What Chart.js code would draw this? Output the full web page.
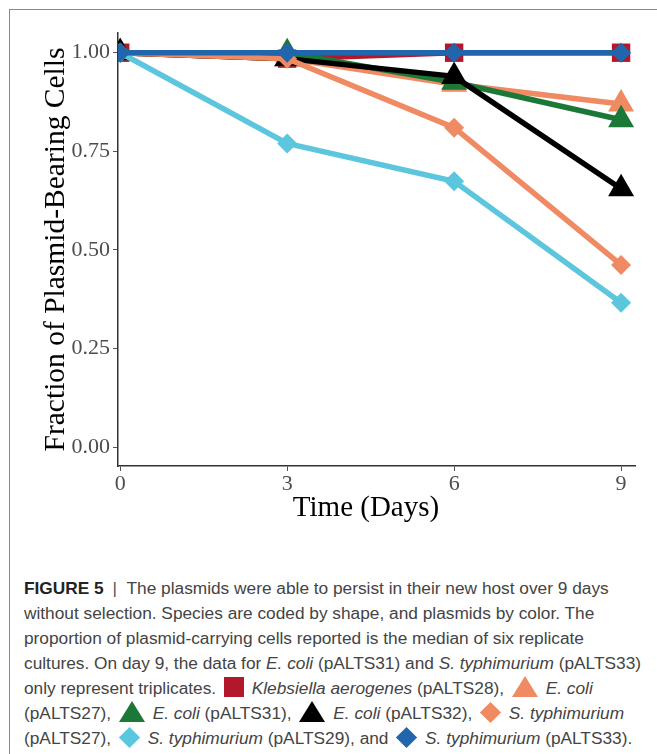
<!DOCTYPE html>
<html>
<head>
<meta charset="utf-8">
<script src="https://cdn.jsdelivr.net/npm/chart.js@4.4.0/dist/chart.umd.min.js"></script>
<style>
  html, body { margin: 0; padding: 0; background: #fff; }
  body { width: 657px; height: 754px; overflow: hidden; position: relative; }
  #frame { position: absolute; left: 9px; top: 9px; width: 700px; height: 800px;
           border-left: 1.5px solid #8a8a8a; border-top: 1.5px solid #8a8a8a; }
  #wrap { position: absolute; left: 0; top: 0; width: 657px; height: 530px; }
  #caption { position: absolute; left: 24px; top: 576px; width: 700px;
             font-family: "Liberation Sans", Arial, sans-serif;
             font-size: 17.3px; line-height: 25px; color: #444; white-space: nowrap; }
  #caption .ln { height: 25px; }
  #caption b { color: #222; }
  #caption .bar { color: #555; margin: 0 5px 0 4px; }
  .sw { display: inline-block; vertical-align: -3px; margin: 0 3px; }
  .sq { width: 20px; height: 20px; }
  .tri { width: 0; height: 0; border-left: 13px solid transparent; border-right: 13px solid transparent; border-bottom: 21px solid; }
  .dia { width: 15px; height: 15px; transform: rotate(45deg); margin: 0 6px; vertical-align: -1px; }
</style>
</head>
<body>
<div id="frame"></div>
<div id="wrap"><canvas id="myChart" width="657" height="530"></canvas></div>
<div id="caption">
  <div class="ln"><b>FIGURE 5</b><span class="bar"> |</span> The plasmids were able to persist in their new host over 9 days</div>
  <div class="ln">without selection. Species are coded by shape, and plasmids by color. The</div>
  <div class="ln">proportion of plasmid-carrying cells reported is the median of six replicate</div>
  <div class="ln">cultures. On day 9, the data for <i>E. coli</i> (pALTS31) and <i>S. typhimurium</i> (pALTS33)</div>
  <div class="ln">only represent triplicates. <span class="sw sq" style="background:#b2182b"></span> <i>Klebsiella aerogenes</i> (pALTS28), <span class="sw tri" style="border-bottom-color:#ef8a62"></span> <i>E. coli</i></div>
  <div class="ln">(pALTS27), <span class="sw tri" style="border-bottom-color:#1b7837"></span> <i>E. coli</i> (pALTS31), <span class="sw tri" style="border-bottom-color:#000"></span> <i>E. coli</i> (pALTS32), <span class="sw dia" style="background:#ef8a62"></span> <i>S. typhimurium</i></div>
  <div class="ln">(pALTS27), <span class="sw dia" style="background:#5bc6dd"></span> <i>S. typhimurium</i> (pALTS29), and <span class="sw dia" style="background:#2166ac"></span> <i>S. typhimurium</i> (pALTS33).</div>
</div>
<script>
// jours de mesure
var days = [0, 3, 6, 9];
var yTicks = [0, 0.25, 0.5, 0.75, 1.0];

// series (fraction of plasmid-bearing cells)
var kleb28 = [1.0, 0.985, 1.0, 1.0];
var coli27 = [1.0, 0.985, 0.92, 0.87];
var coli31 = [1.0, 1.0, 0.925, 0.83];
var coli32 = [1.0, 0.985, 0.94, 0.655];
var typh27 = [1.0, 0.985, 0.81, 0.462];
var typh29 = [1.0, 0.77, 0.674, 0.366];
var typh33 = [1.0, 1.0, 1.0, 1.0];

function pts(vals) {
  return vals.map(function (v, i) { return { x: days[i], y: v }; });
}

function ds(label, vals, color, style, radius, order) {
  return {
    label: label,
    data: pts(vals),
    borderColor: color,
    backgroundColor: color,
    borderWidth: 5.5,
    pointStyle: style,
    pointRadius: radius,
    pointHoverRadius: radius,
    pointBorderWidth: 0,
    order: order,
  };
}

// titre de l'axe x, un peu à gauche du centre comme dans la figure
var xTitlePlugin = {
  id: "xTitle",
  afterDraw: function (chart) {
    var c = chart.ctx;
    c.save();
    c.fillStyle = "#000";
    c.font = "29px 'Liberation Serif'";
    c.textAlign = "center";
    c.textBaseline = "middle";
    c.fillText("Time (Days)", chart.chartArea.left + 248, 508);
    c.restore();
  },
};

var ctx = document.getElementById("myChart").getContext("2d");
var myChart = new Chart(ctx, {
  type: "line",
  data: {
    datasets: [
      ds("Klebsiella aerogenes (pALTS28)", kleb28, "#b2182b", "rect", 13, 7),
      ds("E. coli (pALTS27)", coli27, "#ef8a62", "triangle", 15, 6),
      ds("E. coli (pALTS31)", coli31, "#1b7837", "triangle", 15, 5),
      ds("E. coli (pALTS32)", coli32, "#000000", "triangle", 15, 4),
      ds("S. typhimurium (pALTS27)", typh27, "#ef8a62", "rectRot", 10, 3),
      ds("S. typhimurium (pALTS29)", typh29, "#5bc6dd", "rectRot", 10, 2),
      ds("S. typhimurium (pALTS33)", typh33, "#2166ac", "rectRot", 10, 1),
    ],
  },
  plugins: [xTitlePlugin],
  options: {
    responsive: false,
    animation: false,
    layout: { padding: { top: 33, right: 22, left: 0, bottom: 0 } },
    plugins: { legend: { display: false }, tooltip: { enabled: false } },
    scales: {
      x: {
        type: "linear",
        min: -0.04,
        max: 9.25,
        afterBuildTicks: function (s) { s.ticks = days.map(function (d) { return { value: d }; }); },
        afterFit: function (s) { s.height = 64; },
        grid: { drawOnChartArea: false, drawTicks: true, tickLength: 5, color: "#555", lineWidth: 1 },
        border: { display: true, color: "#333", width: 1.5 },
        ticks: { color: "#4d4d4d", font: { family: "Liberation Serif", size: 22 }, padding: 0, maxRotation: 0 },
      },
      y: {
        min: -0.048,
        max: 1.05,
        afterBuildTicks: function (s) { s.ticks = yTicks.map(function (v) { return { value: v }; }); },
        afterFit: function (s) { s.width = 118; },
        grid: { drawOnChartArea: false, drawTicks: true, tickLength: 5, color: "#555", lineWidth: 1 },
        border: { display: true, color: "#333", width: 1.5 },
        ticks: {
          color: "#4d4d4d", font: { family: "Liberation Serif", size: 22 }, padding: 3,
          callback: function (v) { return v.toFixed(2); },
        },
        title: { display: true, text: "Fraction of Plasmid-Bearing Cells", color: "#000", font: { family: "Liberation Serif", size: 29.5 }, padding: { top: 39, bottom: 0 } },
      },
    },
  },
});
</script>
</body>
</html>
